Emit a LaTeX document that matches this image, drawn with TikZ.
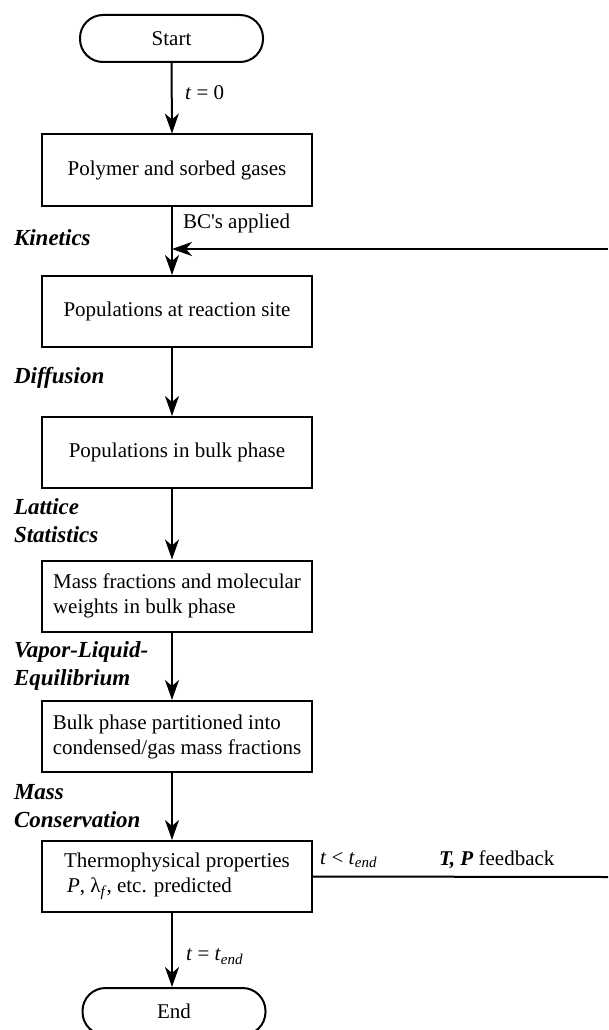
\documentclass[tikz,border=0pt]{standalone}
\usepackage{fontspec}
\setmainfont{Liberation Serif}
\usetikzlibrary{arrows.meta,calc}
\newcommand{\lowsub}[1]{\raisebox{-0.4ex}{\fontsize{15}{15}\selectfont\textit{#1}}}
\newcommand{\tend}{\textit{t}\lowsub{end}}

\begin{document}
\begin{tikzpicture}[x=1pt,y=-1pt,line width=2pt,
	arr/.style={-{Stealth[length=20pt,width=14pt,inset=6pt]}},
	box/.style={draw,minimum width=270pt,minimum height=71pt,align=left,inner sep=0pt,font=\fontsize{21}{25}\selectfont},
	term/.style={draw,rounded corners=23pt,minimum width=183pt,minimum height=47pt,font=\fontsize{21}{25}\selectfont},
	note/.style={anchor=west,inner sep=0pt,font=\fontsize{21}{25}\selectfont},
	stage/.style={anchor=west,align=left,inner sep=0pt,font=\fontsize{23}{28}\selectfont\bfseries\itshape}]

\useasboundingbox (0,0) rectangle (608,1030);

\node[term] (start) at (171.5,38.5) {Start};
\node[box] (poly) at (177,170) {Polymer and sorbed gases};
\node[box] (site) at (177,311.5) {Populations at reaction site};
\node[box] (bulk) at (177,452.5) {Populations in bulk phase};
\node[box] (frac) at (177,596) {Mass fractions and molecular\\weights in bulk phase};
\node[box] (part) at (177,736.5) {Bulk phase partitioned into\\condensed/gas mass fractions};
\node[box] (thermo) at (177,876.5) {Thermophysical properties\\\hspace{3pt}\textit{P}, λ\lowsub{f}, etc. predicted};
\node[term] (end) at (174,1011.5) {End};

\coordinate (spine) at (172,0);
\coordinate (fbin) at (608,249);
\coordinate (fbout) at (608,877);

\node[stage] (kin) at (13,238) {Kinetics};
\node[stage] (dif) at (13,378) {Diffusion};
\node[stage] (lat) at (13,521) {Lattice\\Statistics};
\node[stage] (vle) at (13,665.5) {Vapor-Liquid-\\Equilibrium};
\node[stage] (mcons) at (13,806) {Mass\\Conservation};

\node[note] (t0) at (184,93) {\textit{t} = 0};
\node[note] (bc) at (182,223) {BC\textquotesingle s applied};
\node[note] (tlt) at (319,860) {\textit{t} < \tend};
\node[note] (fb) at (438,860) {\textbf{\textit{T, P}} feedback};
\node[note] (teq) at (185,957) {\textit{t} = \tend};

\path[arr]
	(start.south) edge (spine |- poly.north)
	(spine |- poly.south) edge (spine |- site.north)
	(spine |- site.south) edge (spine |- bulk.north)
	(spine |- bulk.south) edge (spine |- frac.north)
	(spine |- frac.south) edge (spine |- part.north)
	(spine |- part.south) edge (spine |- thermo.north)
	(spine |- thermo.south) edge (spine |- end.north)
	(fbin) edge (spine |- fbin);
\draw (thermo.east) -- (fbout);

\end{tikzpicture}
\end{document}
